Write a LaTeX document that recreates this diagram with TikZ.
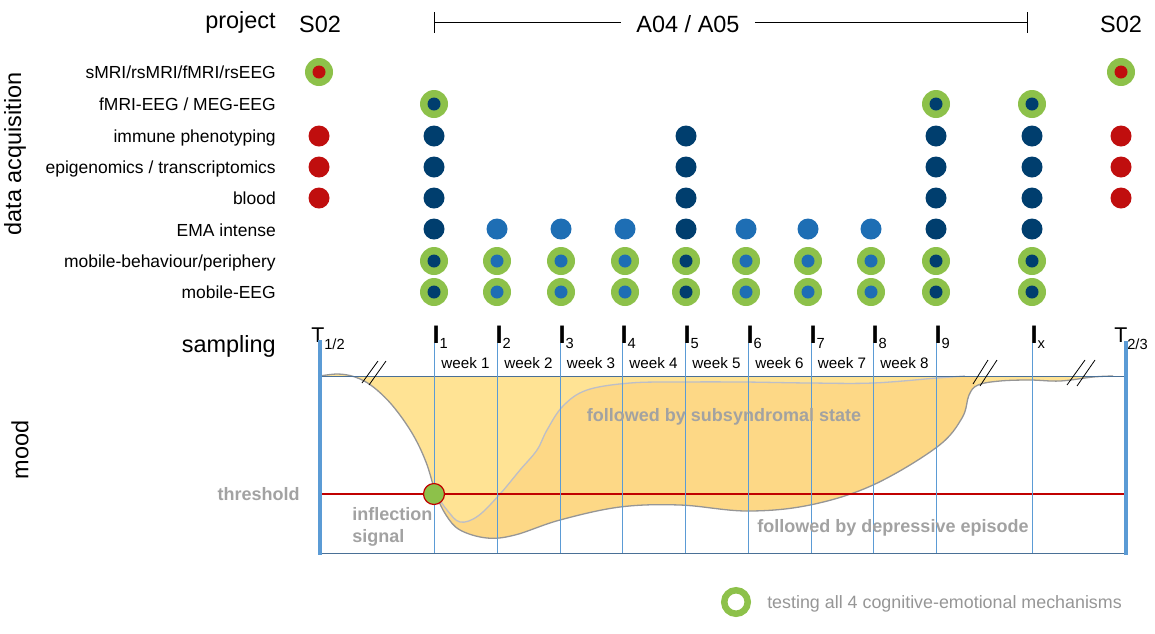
\documentclass[tikz,border=0pt]{standalone}
\usepackage{fontspec}
\setmainfont{Liberation Sans}
\newlength{\du}
\setlength{\du}{0.75pt}

\definecolor{mechgreen}{RGB}{141,193,74}
\definecolor{navyblue}{RGB}{0,62,110}
\definecolor{skyblue}{RGB}{30,110,180}
\definecolor{dotred}{RGB}{192,14,14}
\definecolor{sampleblue}{RGB}{91,155,213}
\definecolor{axisblue}{RGB}{74,112,150}
\definecolor{threshred}{RGB}{192,0,0}
\definecolor{moodlight}{RGB}{255,227,148}
\definecolor{mooddark}{RGB}{253,216,134}
\definecolor{episodegrey}{RGB}{150,150,150}
\definecolor{subgrey}{RGB}{188,190,200}
\definecolor{notegrey}{RGB}{162,162,162}
\definecolor{legendgrey}{RGB}{150,150,150}

\tikzset{
  bigtitle/.style={inner sep=0pt, font=\fontsize{17.6}{20}\selectfont},
  rowlabel/.style={inner sep=0pt, anchor=base east, font=\fontsize{13.1}{15.7}\selectfont},
  weeklabel/.style={inner sep=0pt, anchor=base, font=\fontsize{11.4}{13}\selectfont},
  ilabel/.style={inner sep=0pt, anchor=base west, font=\fontsize{19}{20}\selectfont},
  tlabel/.style={inner sep=0pt, anchor=base west, font=\fontsize{16}{18}\selectfont},
  greynote/.style={inner sep=0pt, text=notegrey, font=\fontsize{13.5}{16.3}\selectfont\bfseries},
  sampleline/.style={draw=sampleblue, line width=1\du},
  bigline/.style={draw=sampleblue, line width=3.5\du},
  breakmark/.style={draw=black, line width=0.8\du},
}

\newcommand{\plaindot}[3]{\fill[#3] (#1\du,#2\du) circle (10.5\du);}
\newcommand{\ringdot}[3]{\fill[mechgreen] (#1\du,#2\du) circle (14\du);
  \fill[#3] (#1\du,#2\du) circle (6.5\du);}
\newcommand{\isub}[1]{\raisebox{-3.75pt}{\fontsize{11}{11}\selectfont #1}}
\newcommand{\tsub}[1]{\raisebox{-5.25pt}{\fontsize{11}{11}\selectfont #1}}

\newcommand{\episodecurve}{plot[smooth, tension=0.6] coordinates {
  (320\du,376\du) (338\du,374\du) (355\du,377\du) (372\du,386\du)
  (392\du,405\du) (412\du,433\du) (426\du,462\du) (436\du,494\du)
  (446\du,515\du) (460\du,530\du) (487\du,538\du) (515\du,535\du)
  (560\du,520\du) (620\du,507\du) (680\du,505\du) (747\du,511\du)
  (810\du,505\du) (873\du,485\du) (937\du,447\du) (962\du,418\du)
  (969\du,395\du) (978\du,385\du) (1000\du,381\du) (1030\du,380\du)
  (1060\du,381\du) (1093\du,377\du) (1113\du,376\du)}}
\newcommand{\subcurve}{plot[smooth, tension=0.6] coordinates {
  (436\du,494\du) (447\du,510\du) (460\du,522\du) (478\du,516\du)
  (500\du,494\du) (520\du,470\du) (537\du,450\du) (547\du,430\du)
  (563\du,406\du) (587\du,390\du) (630\du,383\du) (680\du,382\du)
  (743\du,382\du) (810\du,383\du) (873\du,383\du) (937\du,378\du)
  (965\du,376\du)}}

\begin{document}
\begin{tikzpicture}
\pgftransformxscale{1.000000}
\pgftransformyscale{-1.000000}
\useasboundingbox (0\du,0\du) rectangle (1155\du,633\du);

% project header
\node[bigtitle, anchor=base east] (project) at (276\du,28\du){project};
\node[bigtitle, anchor=base] (s02a) at (320\du,32\du){S02};
\node[bigtitle, anchor=base] (s02b) at (1121\du,32\du){S02};
\node[bigtitle, anchor=base, inner xsep=15\du] (a0405) at (688\du,32\du){A04 / A05};
\coordinate (bl) at (434\du,22\du);
\coordinate (br) at (1027\du,22\du);
\draw[line width=1\du] (bl) -- (bl -| a0405.west);
\draw[line width=1\du] (br -| a0405.east) -- (br);
\draw[line width=1\du] (434\du,12\du) -- (434\du,33\du);
\draw[line width=1\du] (1027\du,12\du) -- (1027\du,33\du);

% data acquisition rows
\node[inner sep=0pt, rotate=90, font=\fontsize{17.6}{20}\selectfont] (acq) at (15\du,154\du){data acquisition};
\node[rowlabel] (rsmri) at (276\du,78\du){sMRI/rsMRI/fMRI/rsEEG};
\node[rowlabel] (rfmrieeg) at (276\du,110\du){fMRI-EEG / MEG-EEG};
\node[rowlabel] (rimmune) at (276\du,142\du){immune phenotyping};
\node[rowlabel] (repi) at (276\du,173\du){epigenomics / transcriptomics};
\node[rowlabel] (rblood) at (276\du,204\du){blood};
\node[rowlabel] (rema) at (276\du,236\du){EMA intense};
\node[rowlabel] (rmob) at (276\du,267\du){mobile-behaviour/periphery};
\node[rowlabel] (rmeeg) at (276\du,298\du){mobile-EEG};

\foreach \x in {434,686,936,1032}{
  \foreach \y in {136,167,198,229}{\plaindot{\x}{\y}{navyblue}}
  \ringdot{\x}{261}{navyblue}
  \ringdot{\x}{292}{navyblue}
}
\foreach \x in {434,936,1032}{\ringdot{\x}{104}{navyblue}}
\foreach \x in {497,561,625,746,808,871}{
  \plaindot{\x}{229}{skyblue}
  \ringdot{\x}{261}{skyblue}
  \ringdot{\x}{292}{skyblue}
}
\foreach \x in {319,1121}{
  \ringdot{\x}{72}{dotred}
  \foreach \y in {136,167,198}{\plaindot{\x}{\y}{dotred}}
}

% mood panel
\fill[moodlight] \episodecurve -- cycle;
\begin{scope}
\clip \subcurve -- (975\du,376\du) -- (975\du,560\du) -- (436\du,560\du) -- cycle;
\fill[mooddark] \episodecurve -- cycle;
\end{scope}
\draw[subgrey, line width=1.3\du] \subcurve;
\draw[episodegrey, line width=1.3\du] \episodecurve;

\draw[axisblue, line width=1\du] (320\du,376\du) -- (1126\du,376\du);
\draw[axisblue, line width=1\du] (320\du,553\du) -- (1126\du,553\du);
\draw[threshred, line width=1.2\du] (320\du,494\du) -- (1126\du,494\du);

\foreach \x/\s in {434/1,497/2,560/3,622/4,685/5,748/6,811/7,873/8,936/9,1032/x}{
  \node[ilabel, xshift=-1.6\du] (I\s) at (\x\du,343\du){\textbf{I}\isub{\s}};
  \draw[sampleline] (\x\du,343\du) -- (\x\du,553\du);
}
\foreach \x/\w in {465.5/1,528.5/2,591/3,653.5/4,716.5/5,779.5/6,842/7,904.5/8}{
  \node[weeklabel] (week\w) at (\x\du,368\du){week \w};
}

\node[tlabel] (tstart) at (311\du,342\du){T\tsub{1/2}};
\node[tlabel] (tend) at (1114\du,342\du){T\tsub{2/3}};
\draw[bigline] (320\du,340\du) -- (320\du,555\du);
\draw[bigline] (1126\du,341\du) -- (1126\du,555\du);

\draw[breakmark] (362\du,383\du) -- (378\du,361\du);
\draw[breakmark] (369\du,385\du) -- (386\du,361\du);
\draw[breakmark] (973\du,384\du) -- (988\du,360\du);
\draw[breakmark] (980\du,386\du) -- (997\du,360\du);
\draw[breakmark] (1067\du,385\du) -- (1085\du,360\du);
\draw[breakmark] (1077\du,386\du) -- (1095\du,360\du);

\node[bigtitle, anchor=base east] (sampling) at (276\du,352\du){sampling};
\node[inner sep=0pt, rotate=90, font=\fontsize{17.6}{20}\selectfont] (mood) at (20\du,450\du){mood};

\node[greynote, anchor=base east] (threshold) at (300\du,500\du){threshold};
\node[greynote, anchor=north west, align=left] (inflection) at (352\du,507\du){inflection\\signal};
\node[greynote, anchor=base] (subsyn) at (724\du,421\du){followed by subsyndromal state};
\node[greynote, anchor=base] (depress) at (893\du,532\du){followed by depressive episode};

\filldraw[fill=mechgreen, draw=threshred, line width=1.2\du] (434\du,494\du) circle (10.5\du);

% legend
\draw[mechgreen, line width=6.5\du] (736\du,602\du) circle (11.75\du);
\node[inner sep=0pt, anchor=base west, text=legendgrey, font=\fontsize{13.4}{16}\selectfont] (legend) at (767\du,608\du){testing all 4 cognitive-emotional mechanisms};
\end{tikzpicture}
\end{document}
